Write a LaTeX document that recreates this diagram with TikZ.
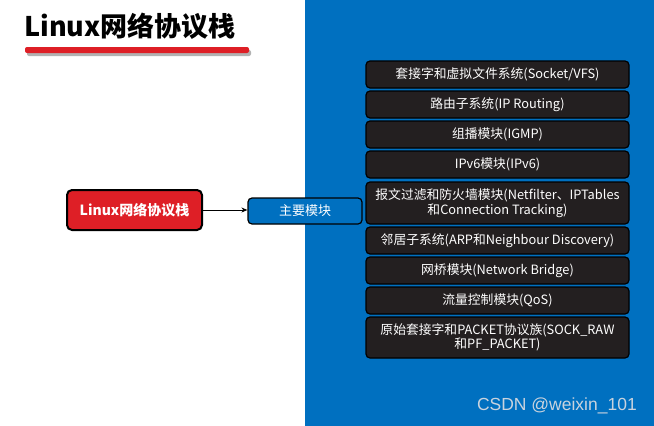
\documentclass[tikz,border=0pt]{standalone}
\usepackage{fontspec}
\setmainfont{Noto Sans CJK SC}
\newfontfamily\wmfont{Liberation Sans}
\usetikzlibrary{arrows.meta}
\definecolor{panelblue}{HTML}{0070C0}
\definecolor{boxdark}{HTML}{231F20}
\definecolor{redfill}{HTML}{DE1F26}
\definecolor{wmgray}{HTML}{C9D3DE}
\tikzset{
  x=1pt,y=-1pt,
  modbox/.style={draw=black,line width=1.2pt,fill=boxdark,rounded corners=4pt,text=white,font=\fontsize{12.8}{14.5}\selectfont,align=center,inner sep=0pt},
  mainbox/.style={draw=black,line width=2pt,fill=redfill,rounded corners=5pt,text=white,font=\fontsize{14}{16}\selectfont\bfseries,inner sep=0pt},
  subbox/.style={draw=black,line width=1.2pt,fill=panelblue,rounded corners=4pt,text=white,font=\fontsize{13}{15}\selectfont,inner sep=0pt},
}
\begin{document}
\begin{tikzpicture}
\useasboundingbox (0,0) rectangle (654,426);
\fill[white] (0,0) rectangle (654,426);
\fill[panelblue] (305,0) rectangle (654,426);
% title
\node[anchor=west,inner sep=0pt,font=\fontsize{27}{30}\selectfont\bfseries] (title) at (24,26) {Linux网络协议栈};
\fill[gray!60,rounded corners=2pt] (27,50) rectangle (251,56);
\fill[redfill,rounded corners=2pt] (25,47) rectangle (249,53);
% left nodes
\node[mainbox,minimum width=135pt,minimum height=40pt] (main) at (134.5,210) {Linux网络协议栈};
\node[subbox,minimum width=114pt,minimum height=26pt] (sub) at (305,211) {主要模块};
\draw[line width=1pt,-{Stealth[length=6pt,width=5pt]}] (main.east) -- (sub.west |- main.east);
% right boxes
\node[modbox,minimum width=263pt,minimum height=27pt] (m1) at (497.5,74.5) {套接字和虚拟文件系统(Socket/VFS)};
\node[modbox,minimum width=263pt,minimum height=27pt] (m2) at (497.5,104.5) {路由子系统(IP Routing)};
\node[modbox,minimum width=263pt,minimum height=27pt] (m3) at (497.5,134.5) {组播模块(IGMP)};
\node[modbox,minimum width=263pt,minimum height=27pt] (m4) at (497.5,164.5) {IPv6模块(IPv6)};
\node[modbox,minimum width=263pt,minimum height=42pt] (m5) at (497.5,203) {报文过滤和防火墙模块(Netfilter、IPTables\\和Connection Tracking)};
\node[modbox,minimum width=263pt,minimum height=27pt] (m6) at (497.5,240.5) {邻居子系统(ARP和Neighbour Discovery)};
\node[modbox,minimum width=263pt,minimum height=27pt] (m7) at (497.5,270.5) {网桥模块(Network Bridge)};
\node[modbox,minimum width=263pt,minimum height=27pt] (m8) at (497.5,300.5) {流量控制模块(QoS)};
\node[modbox,minimum width=263pt,minimum height=41pt] (m9) at (497.5,337.5) {原始套接字和PACKET协议族(SOCK\_RAW\\和PF\_PACKET)};
% watermark
\node[anchor=east,inner sep=0pt,text=wmgray,font=\wmfont\fontsize{17.5}{19}\selectfont] (wm) at (637,406) {CSDN @weixin\_101};
\end{tikzpicture}
\end{document}
